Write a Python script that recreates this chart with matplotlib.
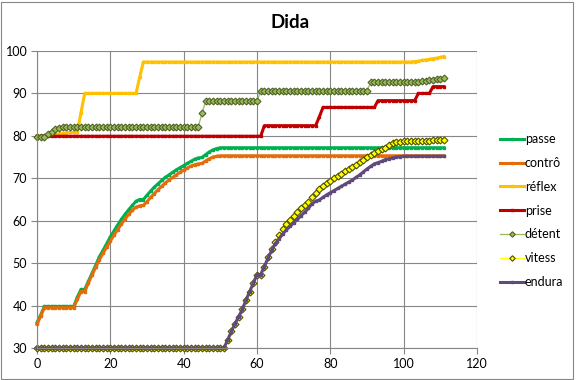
import numpy as np
import matplotlib
matplotlib.use('Agg')
from matplotlib import pyplot as plt
from matplotlib.patches import Rectangle

plt.rcParams['font.family'] = ['Lato', 'DejaVu Sans']

x_data = np.arange(112)

passe = ([36.0, 37.8, 39.8] + [39.8] * 8
         + [42.0, 43.8, 43.8, 45.7, 47.6, 49.5, 51.5, 53.0, 54.6, 56.2,
            57.6, 59.0, 60.3, 61.5, 62.6, 63.6, 64.6, 65.0, 65.0, 66.0,
            67.0, 67.9, 68.7, 69.5, 70.2, 70.8, 71.4, 72.0, 72.5, 73.0,
            73.5, 74.0, 74.5, 74.8, 74.9, 75.6, 76.2, 76.7, 77.0, 77.2]
         + [77.2] * 61)

controle = ([35.6, 37.5, 39.5] + [39.5] * 8
            + [41.5, 43.3, 43.3, 45.3, 47.2, 49.0, 50.8, 52.3, 53.8, 55.2,
               56.6, 57.9, 59.2, 60.4, 61.5, 62.5, 63.2, 63.5, 63.6, 64.5,
               65.5, 66.4, 67.3, 68.1, 68.9, 69.6, 70.2, 70.8, 71.4, 71.9,
               72.4, 72.9, 73.2, 73.4, 73.5, 74.1, 74.6, 75.0, 75.2, 75.3]
            + [75.3] * 61)

reflex = ([80.0, 80.0, 80.1, 80.2, 80.3, 80.4, 80.5, 80.6, 80.7, 80.8, 80.8, 80.9,
           85.5, 90.0] + [90.0] * 14 + [93.8, 97.4] + [97.4] * 73
          + [97.5, 97.6, 97.8, 97.9, 98.0, 98.2, 98.3, 98.5, 98.7])

prise = ([79.9] * 62 + [82.4] * 15 + [84.5, 86.7] + [86.7] * 14
         + [88.3] * 11 + [90.0] * 4 + [91.6] * 4)

detente = ([79.7] * 3 + [80.4, 81.0, 81.5, 81.9, 82.1] + [82.2] * 37 + [85.3]
           + [88.2] * 15 + [90.6] * 30 + [92.6] * 12
           + [92.7, 92.8, 92.9, 93.0, 93.1, 93.2, 93.3, 93.5, 93.6])

vitesse = ([30.0] * 52
           + [31.9, 33.9, 35.7, 37.4, 39.1, 41.3, 43.3, 45.3, 47.3, 47.3, 49.2]
           + [51.5, 53.3, 55.0, 56.6, 58.0, 59.2, 60.2, 61.1, 62.0, 62.9,
              63.7, 64.5, 65.5, 66.6, 67.4, 68.1, 68.8, 69.4, 70.0, 70.6,
              71.1, 71.6, 72.1, 72.6, 73.2, 73.8, 74.3, 74.9, 75.4, 75.9,
              76.4, 76.8, 77.2, 77.8, 78.3]
           + [78.5, 78.6, 78.7, 78.7, 78.8, 78.8, 78.8, 78.9, 78.9, 78.9,
              79.0, 79.0, 79.0, 79.0])

endurance = ([30.0] * 52
             + [31.9, 33.9, 35.7, 37.4, 39.1, 41.3, 43.3, 45.3, 47.3, 47.3, 49.2]
             + [51.2, 53.0, 54.6, 55.8, 56.9, 57.8, 58.7, 59.5, 60.3, 61.2,
                62.0, 62.9, 64.0, 64.6, 64.9, 65.5, 66.1, 66.6, 67.1, 67.6,
                68.1, 68.6, 69.1, 69.6, 70.2, 70.8, 71.5, 72.2, 72.8, 73.4,
                73.7, 74.0, 74.4, 74.6, 74.8, 75.0, 75.1]
             + [75.2] * 12)

fig = plt.figure(figsize=(5.8, 3.8), dpi=100)
ax = fig.add_axes([37 / 580, 1 - 348 / 380, 440 / 580, 297 / 380])

grid_color = '#868686'

# thick lines with small markers
thick = [
    (passe, 'passe', '#00B050'),
    (controle, 'contrô', '#E46C0A'),
    (reflex, 'réflex', '#FFC000'),
    (prise, 'prise', '#C00000'),
]
for values, name, color in thick:
    ax.plot(x_data, values, color=color, lw=2.2, marker='s', ms=1.8,
            mec=color, mfc=color, label=name, clip_on=False)

ax.plot(x_data, detente, color='#9BBB59', lw=0.9, marker='D', ms=3.5,
        mfc='#9BBB59', mec='#4F6228', mew=0.8, label='détent', clip_on=False)
ax.plot(x_data, vitesse, color='#FFFF00', lw=0.9, marker='D', ms=3.5,
        mfc='#FFFF00', mec='#4F4F00', mew=0.8, label='vitess', clip_on=False)
ax.plot(x_data, endurance, color='#604A7B', lw=2.2, marker='s', ms=1.8,
        mec='#604A7B', mfc='#604A7B', label='endura', clip_on=False)

ax.set_xlim(0, 120)
ax.set_ylim(30, 100)
ax.set_xticks(range(0, 121, 20))
ax.set_yticks(range(30, 101, 10))
ax.grid(True, color=grid_color, lw=0.8)
ax.set_axisbelow(True)
for side in ['top', 'right']:
    ax.spines[side].set_visible(False)
for side in ['left', 'bottom']:
    ax.spines[side].set_color(grid_color)
    ax.spines[side].set_linewidth(0.8)
ax.tick_params(direction='out', length=4, color=grid_color, labelsize=9,
               labelcolor='#000000', pad=3)

fig.text(290 / 580, 1 - 22 / 380, 'Dida', ha='center', va='center',
         fontsize=13.5, fontweight='bold')

fig.legend(loc='upper left', bbox_to_anchor=(500 / 580, 1 - 133 / 380),
           frameon=False, fontsize=9, handlelength=1.9, handletextpad=0.1,
           labelspacing=0.95, borderaxespad=0, borderpad=0, markerscale=0.8)

fig.patches.append(Rectangle((1 / 580, 1 / 380), 572 / 580, 377 / 380,
                             transform=fig.transFigure, fill=False,
                             edgecolor=grid_color, lw=0.8))

fig.savefig('out.png', dpi=100)
